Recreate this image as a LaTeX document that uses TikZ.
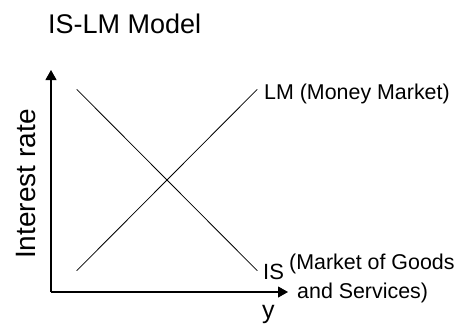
\documentclass[tikz,border=0pt]{standalone}
\usepackage{fontspec}
\setmainfont{Liberation Sans}
\usetikzlibrary{arrows.meta}
\begin{document}
\begin{tikzpicture}[x=1pt,y=-1pt,
  axis/.style={line width=1.1pt,-{Triangle[width=11pt,length=10pt]}},
  curve/.style={line width=0.8pt},
  lbl/.style={inner sep=0pt,anchor=base west}]
\useasboundingbox (0,0) rectangle (455,325);
\node[lbl,font=\fontsize{27}{29}\selectfont] (title) at (48,33) {IS-LM Model};
\coordinate (o) at (51,292);
\coordinate (ytop) at (51,70);
\coordinate (xend) at (288,292);
\draw[axis] (o) -- (ytop);
\draw[axis] (o) -- (xend);
\coordinate (is1) at (76.7,89.3);
\coordinate (is2) at (257.3,270.7);
\coordinate (lm1) at (76.7,270.7);
\coordinate (lm2) at (257.3,89.3);
\draw[curve] (is1) -- (is2);
\draw[curve] (lm1) -- (lm2);
\node[lbl,font=\fontsize{21.4}{23}\selectfont] (lm) at (264,99) {LM (Money Market)};
\node[lbl,font=\fontsize{22}{24}\selectfont] (is) at (263,279) {IS};
\node[lbl,font=\fontsize{21.4}{23}\selectfont] (mg) at (289,269) {(Market of Goods};
\node[lbl,font=\fontsize{21.4}{23}\selectfont] (as) at (297,298) {and Services)};
\node[lbl,font=\fontsize{25}{27}\selectfont] (y) at (262,318) {y};
\node[lbl,font=\fontsize{28}{30}\selectfont,rotate=90] (ir) at (35,259) {Interest rate};
\end{tikzpicture}
\end{document}
